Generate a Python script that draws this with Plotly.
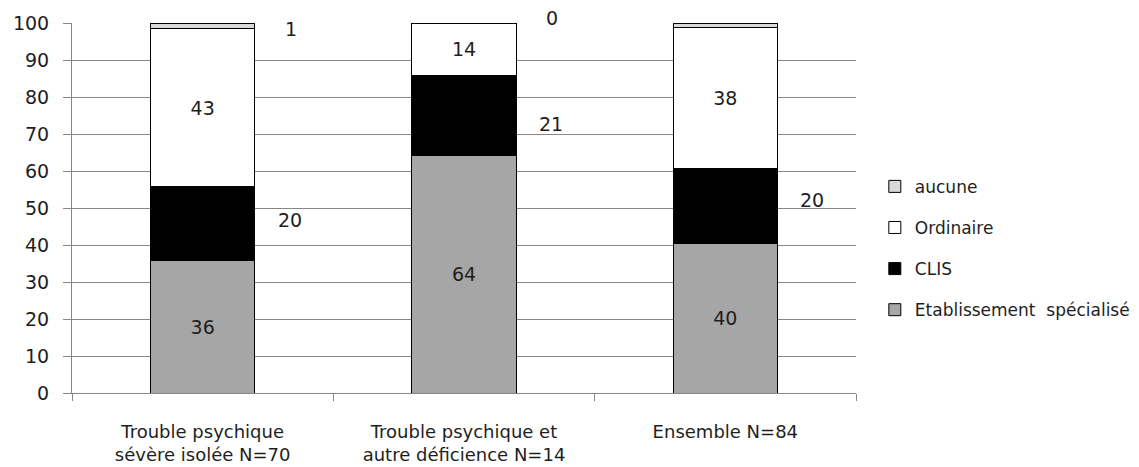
import plotly.graph_objects as go

categories = ["Trouble psychique<br>sévère isolée N=70",
              "Trouble psychique et<br>autre déficience N=14",
              "Ensemble N=84"]
etablissement = [35.7, 64.3, 40.5]
clis = [20.0, 21.4, 20.2]
ordinaire = [42.9, 14.3, 38.1]
aucune = [1.4, 0.0, 1.2]
y_ticks = [0, 10, 20, 30, 40, 50, 60, 70, 80, 90, 100]

FONT = "DejaVu Sans"
TXT = "#1e1e1e"
GRID = "#868686"

fig = go.Figure()
series = [
    ("Etablissement \u00a0spécialisé", etablissement, "#a6a6a6", True),
    ("CLIS", clis, "#000000", False),
    ("Ordinaire", ordinaire, "#ffffff", True),
    ("aucune", aucune, "#d9d9d9", False),
]
for i, (name, vals, col, inside) in enumerate(series):
    fig.add_trace(go.Bar(
        x=categories, y=vals, name=name, legendgroup=str(i),
        legendrank=100 - i,
        marker=dict(color=col, line=dict(color="#000000", width=1)),
        text=[f"{v:.0f}" for v in vals] if inside else None,
        textposition="inside" if inside else "none",
        insidetextanchor="middle",
        textfont=dict(family=FONT, size=19, color=TXT),
        hoverinfo="skip",
    ))

# outside labels for CLIS and aucune (to the right of each bar)
clis_shift = [4, -8.5, 6]
for j, c in enumerate(categories):
    base = etablissement[j]
    fig.add_annotation(x=c, y=base + clis[j] / 2, text=f"{clis[j]:.0f}",
                       showarrow=False, xshift=87, yshift=clis_shift[j],
                       font=dict(family=FONT, size=19, color=TXT))
    top = etablissement[j] + clis[j] + ordinaire[j] + aucune[j]
    fig.add_annotation(x=c, y=top, text=f"{aucune[j]:.0f}",
                       showarrow=False, xshift=88, yshift=(-6 if aucune[j] > 0 else 5),
                       font=dict(family=FONT, size=19, color=TXT))

fig.update_layout(
    barmode="stack", bargap=0.6,
    width=1139, height=467,
    margin=dict(l=64, r=289, t=15, b=82),
    plot_bgcolor="white", paper_bgcolor="white",
    font=dict(family=FONT, size=18, color=TXT),
    legend=dict(traceorder="grouped", x=1.024, xanchor="left",
                y=0.391, yanchor="middle",
                tracegroupgap=16, font=dict(family=FONT, size=17, color=TXT),
                itemwidth=30),
    showlegend=True,
)
fig.update_yaxes(range=[0, 100], tickvals=y_ticks, showgrid=True, gridcolor=GRID,
                 gridwidth=1, showline=True, linecolor=GRID, ticks="outside",
                 ticklen=8, tickcolor=GRID, tickfont=dict(size=19), zeroline=False,
                 ticklabelstandoff=10, automargin=False)
fig.update_xaxes(showline=True, linecolor=GRID, ticks="outside", tickson="boundaries",
                 ticklen=7, tickcolor=GRID, tickfont=dict(size=18), ticklabelstandoff=22,
                 automargin=False)

fig.write_html("out.html")
